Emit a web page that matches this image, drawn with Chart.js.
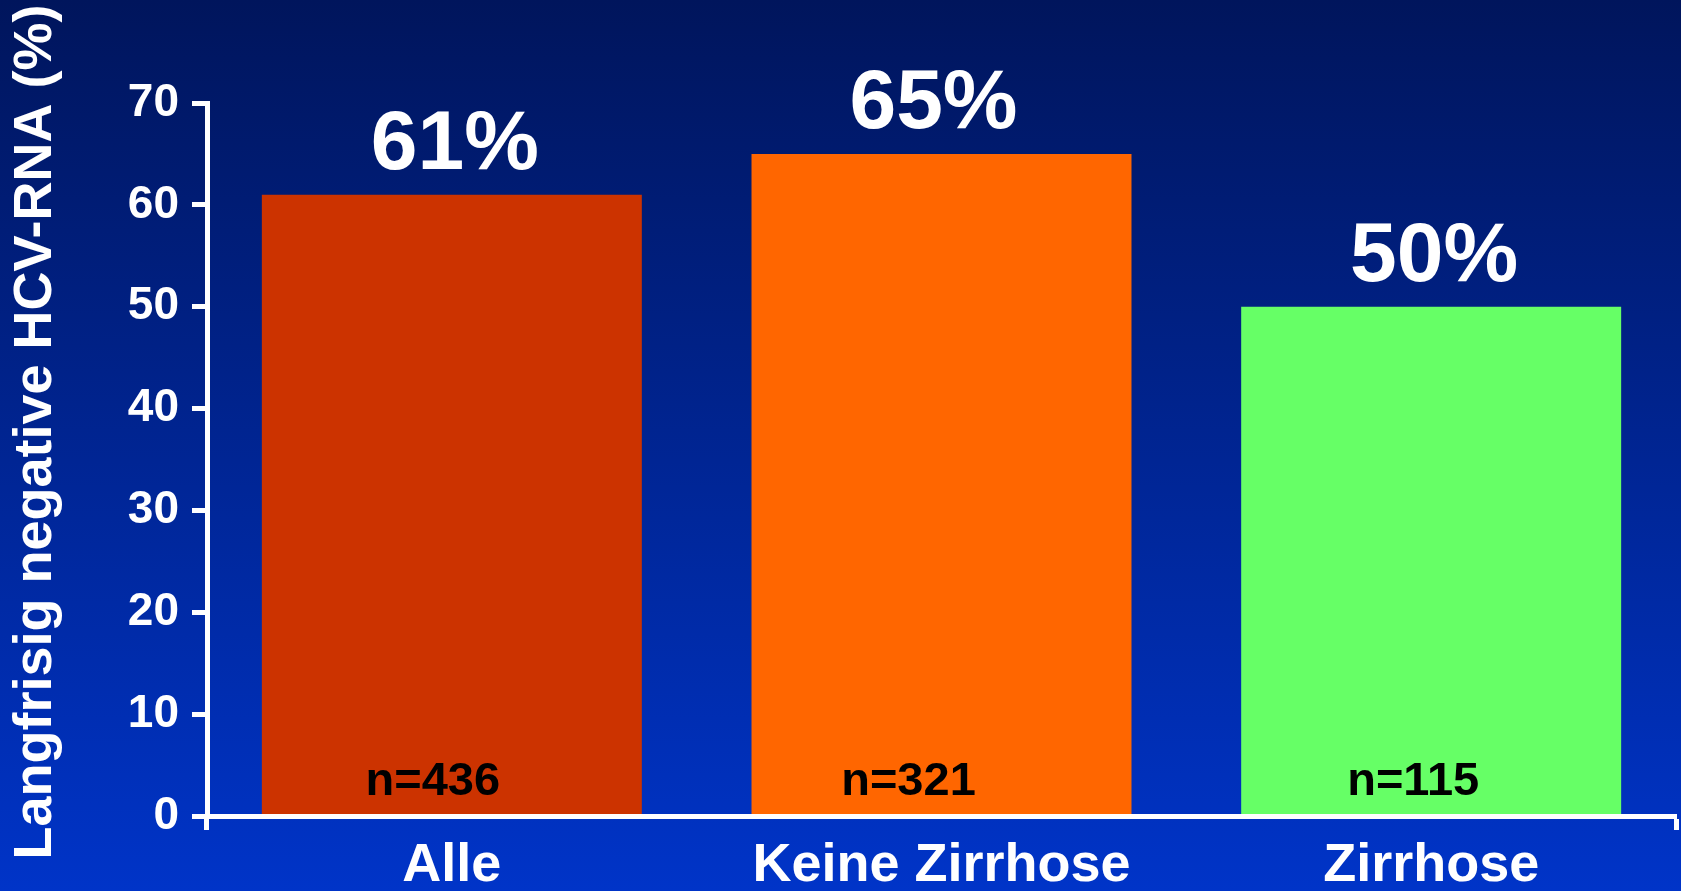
<!DOCTYPE html>
<html>
<head>
<meta charset="utf-8">
<script src="https://cdn.jsdelivr.net/npm/chart.js@4/dist/chart.umd.min.js"></script>
<style>
  html, body { margin: 0; padding: 0; background: #001660; }
  #wrap { width: 1681px; height: 891px; }
</style>
</head>
<body>
<div id="wrap"><canvas id="c" width="1681" height="891"></canvas></div>
<script>
const categories = ['Alle', 'Keine Zirrhose', 'Zirrhose'];
const values = [61, 65, 50];
const sampleSizes = [436, 321, 115];
const barColors = ['#CC3300', '#FF6600', '#66FF66'];
const yMin = 0, yMax = 70, yStep = 10;
const yTitle = 'Langfrisig negative HCV-RNA (%)';

// small horizontal nudges (style only) for the annotation texts
const valueLabelNudge = [3, -8, 3];
const nLabelNudge = [-19, -33, -18];

const FONT = "'Liberation Sans', Arial, sans-serif";

const bgPlugin = {
  id: 'bg',
  beforeDraw(chart) {
    const ctx = chart.ctx;
    const g = ctx.createLinearGradient(0, 0, 0, chart.height);
    g.addColorStop(0, '#00155C');
    g.addColorStop(1, '#0034C8');
    ctx.save();
    ctx.fillStyle = g;
    ctx.fillRect(0, 0, chart.width, chart.height);
    ctx.restore();
  }
};

const yTitlePlugin = {
  id: 'yTitle',
  afterDraw(chart) {
    const ctx = chart.ctx;
    ctx.save();
    ctx.translate(36, 432);
    ctx.rotate(-Math.PI / 2);
    ctx.textAlign = 'center';
    ctx.textBaseline = 'middle';
    ctx.fillStyle = '#FFFFFF';
    ctx.font = 'bold 54px ' + FONT;
    ctx.fillText(yTitle, 0, 0);
    ctx.restore();
  }
};

const labelPlugin = {
  id: 'barLabels',
  afterDatasetsDraw(chart) {
    const ctx = chart.ctx;
    const meta = chart.getDatasetMeta(0);
    const y0 = chart.scales.y.getPixelForValue(0);
    ctx.save();
    meta.data.forEach((bar, i) => {
      ctx.textAlign = 'center';
      ctx.textBaseline = 'alphabetic';
      ctx.fillStyle = '#FFFFFF';
      ctx.font = 'bold 84px ' + FONT;
      ctx.fillText(values[i] + '%', bar.x + valueLabelNudge[i], bar.y - 26);
      ctx.fillStyle = '#000000';
      ctx.font = 'bold 47px ' + FONT;
      ctx.fillText('n=' + sampleSizes[i], bar.x + nLabelNudge[i], y0 - 21);
    });
    ctx.restore();
  }
};

new Chart(document.getElementById('c'), {
  type: 'bar',
  data: {
    labels: categories,
    datasets: [{
      data: values,
      backgroundColor: barColors,
      borderWidth: 0,
      categoryPercentage: 1.0,
      barPercentage: 0.776
    }]
  },
  options: {
    responsive: false,
    animation: false,
    devicePixelRatio: 1,
    layout: { padding: { top: 103, right: 5, left: 0, bottom: 0 } },
    plugins: {
      legend: { display: false },
      tooltip: { enabled: false },
      title: { display: false }
    },
    scales: {
      x: {
        afterFit(s) { s.height = 75; },
        grid: {
          display: true,
          drawOnChartArea: false,
          drawTicks: true,
          tickLength: 14,
          tickWidth: 5,
          tickColor: (c) => (c.type !== 'tick' || c.index === 0) ? '#FFFFFF' : 'rgba(0,0,0,0)',
          color: 'rgba(0,0,0,0)'
        },
        border: { display: true, color: '#FFFFFF', width: 5, z: 1 },
        ticks: {
          color: '#FFFFFF',
          font: { family: FONT, size: 54, weight: 'bold' },
          padding: 4,
          maxRotation: 0,
          autoSkip: false
        }
      },
      y: {
        min: yMin,
        max: yMax,
        afterFit(s) { s.width = 207; },
        grid: {
          display: true,
          drawOnChartArea: false,
          drawTicks: true,
          tickLength: 15,
          tickWidth: 5,
          tickColor: '#FFFFFF',
          color: 'rgba(0,0,0,0)'
        },
        border: { display: true, color: '#FFFFFF', width: 5, z: 1 },
        ticks: {
          stepSize: yStep,
          color: '#FFFFFF',
          font: { family: FONT, size: 46, weight: 'bold' },
          padding: 13
        },
        title: { display: false }
      }
    }
  },
  plugins: [bgPlugin, labelPlugin, yTitlePlugin]
});
</script>
</body>
</html>
